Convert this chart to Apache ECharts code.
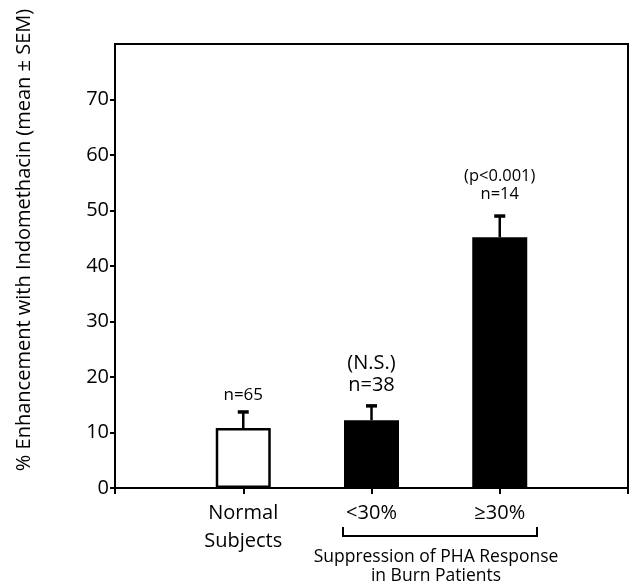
<!DOCTYPE html>
<html>
<head>
<meta charset="utf-8">
<script src="https://cdn.jsdelivr.net/npm/echarts@6/dist/echarts.min.js"></script>
<style>
html,body{margin:0;padding:0;background:#fff;}
#chart{width:631px;height:583px;}
</style>
</head>
<body>
<div id="chart"></div>
<script>
// ---- data ----
const categories = ['', 'Normal\nSubjects', '<30%', '\u226530%', ''];
const meanValues = ['-', 10.8, 12.2, 45.2, '-'];
const semTopValues = [null, 13.7, 14.8, 49.0, null];
const annotations = [[], ['n=65'], ['(N.S.)', 'n=38'], ['(p<0.001)', 'n=14'], []];
const yTickValues = [0, 10, 20, 30, 40, 50, 60, 70];
const yAxisTitle = '% Enhancement with Indomethacin (mean \u00b1 SEM)';
const groupLabelLines = ['Suppression of PHA Response', 'in Burn Patients'];

const FONT = '"Open Sans", Lato, sans-serif';
const chart = echarts.init(document.getElementById('chart'), null, {renderer: 'canvas'});

const errData = [];
const annData = [];
meanValues.forEach((v, i) => {
  if (v !== '-' && semTopValues[i] != null) {
    errData.push([i, v, semTopValues[i]]);
    annData.push([i, semTopValues[i]]);
  }
});

// per-bar annotation styling (offsets above the error bar top, font sizes)
const annStyle = {
  1: {size: 17, offsets: [-17]},
  2: {size: 20, offsets: [-43, -21]},
  3: {size: 16.5, offsets: [-40, -22]}
};

chart.setOption({
  animation: false,
  backgroundColor: '#fff',
  grid: {left: 115, right: 1, top: 44, bottom: 95, show: true, borderColor: '#000', borderWidth: 2, backgroundColor: 'transparent'},
  xAxis: {
    type: 'category',
    data: categories,
    boundaryGap: false,
    axisLine: {lineStyle: {color: '#000', width: 2}},
    axisTick: {show: true, length: 6, lineStyle: {color: '#000', width: 2}},
    axisLabel: {color: '#000', fontSize: 20, fontFamily: FONT, lineHeight: 28, margin: 11, interval: 0},
    splitLine: {show: false}
  },
  yAxis: {
    type: 'value',
    min: 0, max: 80, interval: 10,
    axisLine: {show: true, lineStyle: {color: '#000', width: 2}},
    axisTick: {show: true, length: 5, customValues: yTickValues, lineStyle: {color: '#000', width: 2}},
    axisLabel: {color: '#000', fontSize: 20, fontFamily: FONT, margin: 6, customValues: yTickValues},
    splitLine: {show: false}
  },
  series: [
    {
      type: 'bar',
      data: meanValues.map((v, i) => i === 1 ? {value: v, itemStyle: {color: '#fff', borderColor: '#000', borderWidth: 2.5}} : v),
      barWidth: 55,
      itemStyle: {color: '#000'},
      z: 2
    },
    {
      type: 'custom',
      data: errData,
      z: 3,
      renderItem: function (params, api) {
        const x = api.value(0);
        const p0 = api.coord([x, api.value(1)]);
        const p1 = api.coord([x, api.value(2)]);
        return {
          type: 'group',
          children: [
            {type: 'line', shape: {x1: p0[0], y1: p0[1], x2: p1[0], y2: p1[1]}, style: {stroke: '#000', lineWidth: 2.5}},
            {type: 'line', shape: {x1: p1[0] - 5.5, y1: p1[1], x2: p1[0] + 5.5, y2: p1[1]}, style: {stroke: '#000', lineWidth: 3.5}}
          ]
        };
      }
    },
    {
      type: 'custom',
      data: annData,
      z: 4,
      renderItem: function (params, api) {
        const idx = api.value(0);
        const p = api.coord([idx, api.value(1)]);
        const st = annStyle[idx];
        const lines = annotations[idx];
        return {
          type: 'group',
          children: lines.map((t, k) => ({
            type: 'text',
            style: {
              text: t, x: p[0], y: p[1] + st.offsets[k],
              align: 'center', verticalAlign: 'middle',
              fontSize: st.size, fontFamily: FONT, fill: '#000'
            }
          }))
        };
      }
    }
  ],
  graphic: [
    {
      type: 'text',
      x: 24, y: 240,
      rotation: Math.PI / 2,
      style: {text: yAxisTitle, align: 'center', verticalAlign: 'middle', fontSize: 20, fontFamily: FONT, fill: '#000'}
    },
    {
      type: 'polyline',
      shape: {points: [[343, 527], [343, 536], [537, 536], [537, 527]]},
      style: {stroke: '#000', lineWidth: 2, fill: null}
    },
    {
      type: 'text',
      x: 436, y: 557,
      style: {text: groupLabelLines[0], align: 'center', verticalAlign: 'middle', fontSize: 17.5, fontFamily: FONT, fill: '#000'}
    },
    {
      type: 'text',
      x: 436, y: 576,
      style: {text: groupLabelLines[1], align: 'center', verticalAlign: 'middle', fontSize: 17.5, fontFamily: FONT, fill: '#000'}
    }
  ]
});
</script>
</body>
</html>
